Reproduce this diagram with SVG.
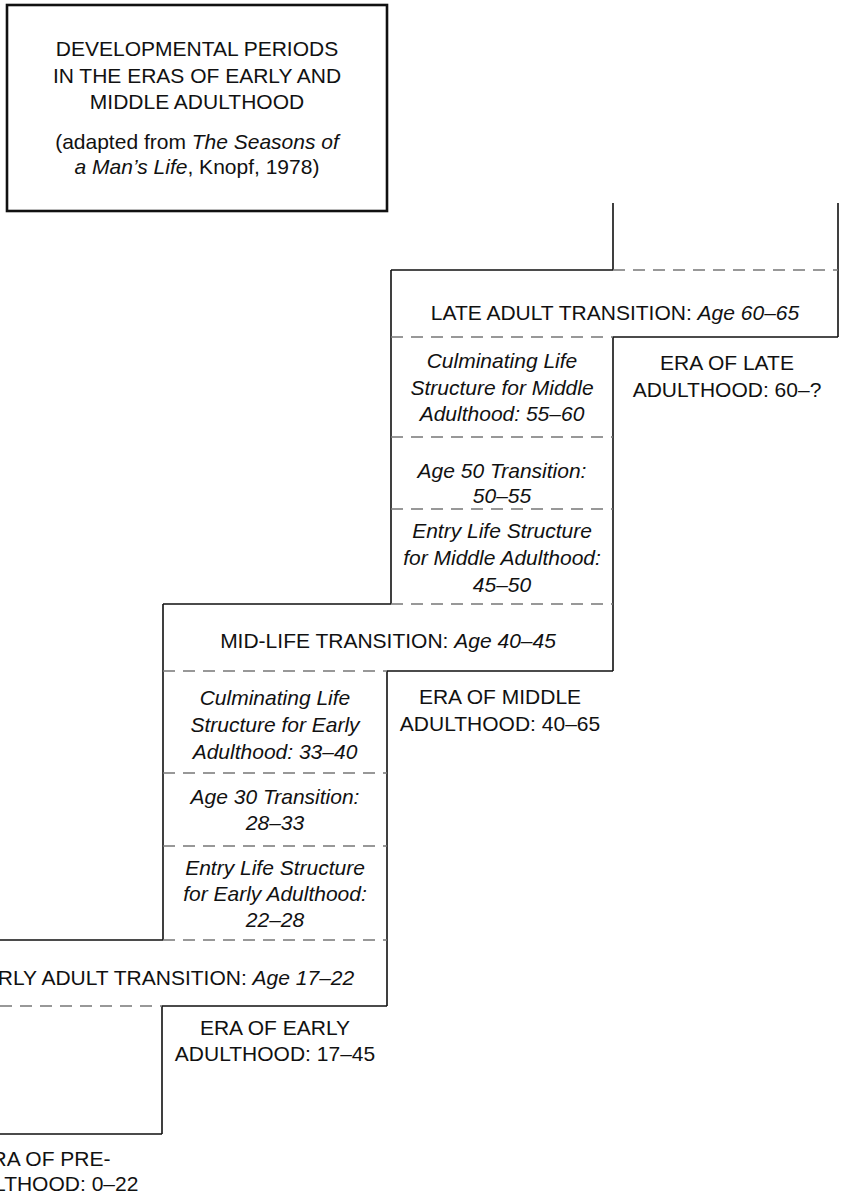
<svg xmlns="http://www.w3.org/2000/svg" width="842" height="1194" viewBox="0 0 842 1194">
<style>
.t{font-family:"Liberation Sans",Arial,Helvetica,sans-serif;font-size:21px;fill:#111;text-anchor:middle}
.i{font-style:italic}
.s{stroke:#111;stroke-width:1.6;fill:none}
.d{stroke:#777;stroke-width:1.4;fill:none;stroke-dasharray:12 8}
</style>
<rect width="842" height="1194" fill="#fff"/>
<g id="title">
<rect x="7" y="5" width="380" height="206" fill="#fff" stroke="#111" stroke-width="2.6"/>
<text class="t" x="197" y="56">DEVELOPMENTAL PERIODS</text>
<text class="t" x="197" y="83">IN THE ERAS OF EARLY AND</text>
<text class="t" x="197" y="109">MIDDLE ADULTHOOD</text>
<text class="t" x="197" y="149">(adapted from <tspan class="i">The Seasons of</tspan></text>
<text class="t" x="197" y="174"><tspan class="i">a Man’s Life</tspan>, Knopf, 1978)</text>
</g>
<g id="connectors">
<path class="s" d="M613 203V270M838 203V337M391 270H613M391 270V604M613 337H838M613 337V671M163 604H391M163 604V940M387 671H613M387 671V1006M0 940H163M162 1006H387M162 1006V1134M0 1134H162"/>
<path class="d" d="M613 270H838M391 337H613M391 437H613M391 509H613M391 604H613M163 671H387M163 773H387M163 846H387M163 940H387M0 1006H162"/>
</g>
<g id="late-adult-transition">
<text class="t" x="615" y="320">LATE ADULT TRANSITION: <tspan class="i">Age 60–65</tspan></text>
</g>
<g id="culminating-middle">
<text class="t i" x="502" y="368">Culminating Life</text>
<text class="t i" x="502" y="395">Structure for Middle</text>
<text class="t i" x="502" y="421">Adulthood: 55–60</text>
</g>
<g id="age-50-transition">
<text class="t i" x="502" y="478">Age 50 Transition:</text>
<text class="t i" x="502" y="503">50–55</text>
</g>
<g id="entry-middle">
<text class="t i" x="502" y="538">Entry Life Structure</text>
<text class="t i" x="502" y="565">for Middle Adulthood:</text>
<text class="t i" x="502" y="592">45–50</text>
</g>
<g id="era-late">
<text class="t" x="727" y="370">ERA OF LATE</text>
<text class="t" x="727" y="397">ADULTHOOD: 60–?</text>
</g>
<g id="mid-life-transition">
<text class="t" x="388" y="648">MID-LIFE TRANSITION: <tspan class="i">Age 40–45</tspan></text>
</g>
<g id="culminating-early">
<text class="t i" x="275" y="705">Culminating Life</text>
<text class="t i" x="275" y="732">Structure for Early</text>
<text class="t i" x="275" y="759">Adulthood: 33–40</text>
</g>
<g id="age-30-transition">
<text class="t i" x="275" y="804">Age 30 Transition:</text>
<text class="t i" x="275" y="830">28–33</text>
</g>
<g id="entry-early">
<text class="t i" x="275" y="875">Entry Life Structure</text>
<text class="t i" x="275" y="901">for Early Adulthood:</text>
<text class="t i" x="275" y="927">22–28</text>
</g>
<g id="era-middle">
<text class="t" x="500" y="704">ERA OF MIDDLE</text>
<text class="t" x="500" y="731">ADULTHOOD: 40–65</text>
</g>
<g id="early-adult-transition">
<text class="t" x="162" y="985">EARLY ADULT TRANSITION: <tspan class="i">Age 17–22</tspan></text>
</g>
<g id="era-early">
<text class="t" x="275" y="1035">ERA OF EARLY</text>
<text class="t" x="275" y="1061">ADULTHOOD: 17–45</text>
</g>
<g id="era-pre">
<text class="t" x="44" y="1166">ERA OF PRE-</text>
<text class="t" x="44" y="1191">ADULTHOOD: 0–22</text>
</g>
</svg>
